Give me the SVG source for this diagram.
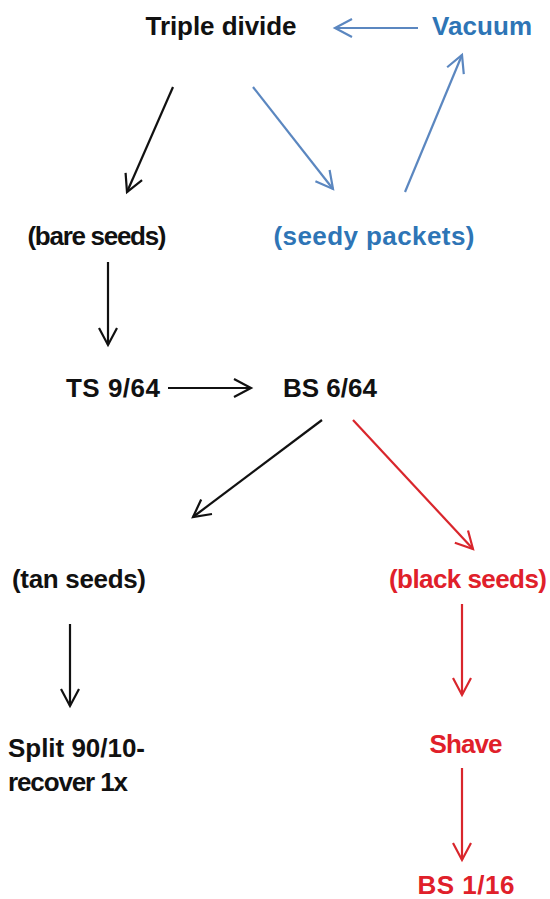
<svg xmlns="http://www.w3.org/2000/svg" width="550" height="899" viewBox="0 0 550 899">
  <style>
    text { font-family: "Liberation Sans", Arial, sans-serif; font-weight: bold; font-size: 26px; text-anchor: middle; }
    .k { fill: #111111; }
    .b { fill: #2E75B6; }
    .r { fill: #E0202A; }
    .lk { stroke: #111111; }
    .lb { stroke: #5B87C0; }
    .lr { stroke: #D9262C; }
    line { stroke-width: 2.2; fill: none; }
  </style>
  <defs>
    <marker id="ak" markerUnits="userSpaceOnUse" markerWidth="24" markerHeight="24" viewBox="-20 -12 24 24" refX="0" refY="0" orient="auto">
      <path d="M-17,-9 L0,0 L-17,9" fill="none" stroke="#111111" stroke-width="2.2"/>
    </marker>
    <marker id="ab" markerUnits="userSpaceOnUse" markerWidth="24" markerHeight="24" viewBox="-20 -12 24 24" refX="0" refY="0" orient="auto">
      <path d="M-17,-9 L0,0 L-17,9" fill="none" stroke="#5B87C0" stroke-width="2.2"/>
    </marker>
    <marker id="ar" markerUnits="userSpaceOnUse" markerWidth="24" markerHeight="24" viewBox="-20 -12 24 24" refX="0" refY="0" orient="auto">
      <path d="M-17,-9 L0,0 L-17,9" fill="none" stroke="#D9262C" stroke-width="2.2"/>
    </marker>
  </defs>
  <rect width="550" height="899" fill="#ffffff"/>

  <g id="connectors">
    <line class="lb" x1="418" y1="28" x2="335" y2="28" marker-end="url(#ab)"/>
    <line class="lk" x1="173" y1="87" x2="127" y2="192" marker-end="url(#ak)"/>
    <line class="lb" x1="253" y1="87" x2="333" y2="189" marker-end="url(#ab)"/>
    <line class="lb" x1="405" y1="192" x2="462" y2="55" marker-end="url(#ab)"/>
    <line class="lk" x1="108" y1="262" x2="108" y2="345" marker-end="url(#ak)"/>
    <line class="lk" x1="168" y1="388" x2="251" y2="388" marker-end="url(#ak)"/>
    <line class="lk" x1="322" y1="420" x2="193" y2="517" marker-end="url(#ak)"/>
    <line class="lr" x1="353" y1="420" x2="473" y2="549" marker-end="url(#ar)"/>
    <line class="lk" x1="70" y1="624" x2="70" y2="706" marker-end="url(#ak)"/>
    <line class="lr" x1="462" y1="604" x2="462" y2="695" marker-end="url(#ar)"/>
    <line class="lr" x1="462" y1="768" x2="462" y2="860" marker-end="url(#ar)"/>
  </g>

  <g id="triple-divide"><text class="k" x="221" y="35" textLength="151">Triple divide</text></g>
  <g id="vacuum"><text class="b" x="482" y="35" textLength="100">Vacuum</text></g>
  <g id="bare-seeds"><text class="k" x="97" y="245" textLength="139">(bare seeds)</text></g>
  <g id="seedy-packets"><text class="b" x="374" y="245" textLength="201">(seedy packets)</text></g>
  <g id="ts-9-64"><text class="k" x="113" y="397" textLength="94">TS 9/64</text></g>
  <g id="bs-6-64"><text class="k" x="330" y="397" textLength="94">BS 6/64</text></g>
  <g id="tan-seeds"><text class="k" x="79" y="588" textLength="134">(tan seeds)</text></g>
  <g id="black-seeds"><text class="r" x="468" y="588" textLength="158">(black seeds)</text></g>
  <g id="split">
    <text class="k" x="8" y="757" textLength="137" style="text-anchor:start">Split 90/10-</text>
    <text class="k" x="8" y="791" textLength="120" style="text-anchor:start">recover 1x</text>
  </g>
  <g id="shave"><text class="r" x="466" y="753" textLength="73">Shave</text></g>
  <g id="bs-1-16"><text class="r" x="466" y="894" textLength="97">BS 1/16</text></g>
</svg>
